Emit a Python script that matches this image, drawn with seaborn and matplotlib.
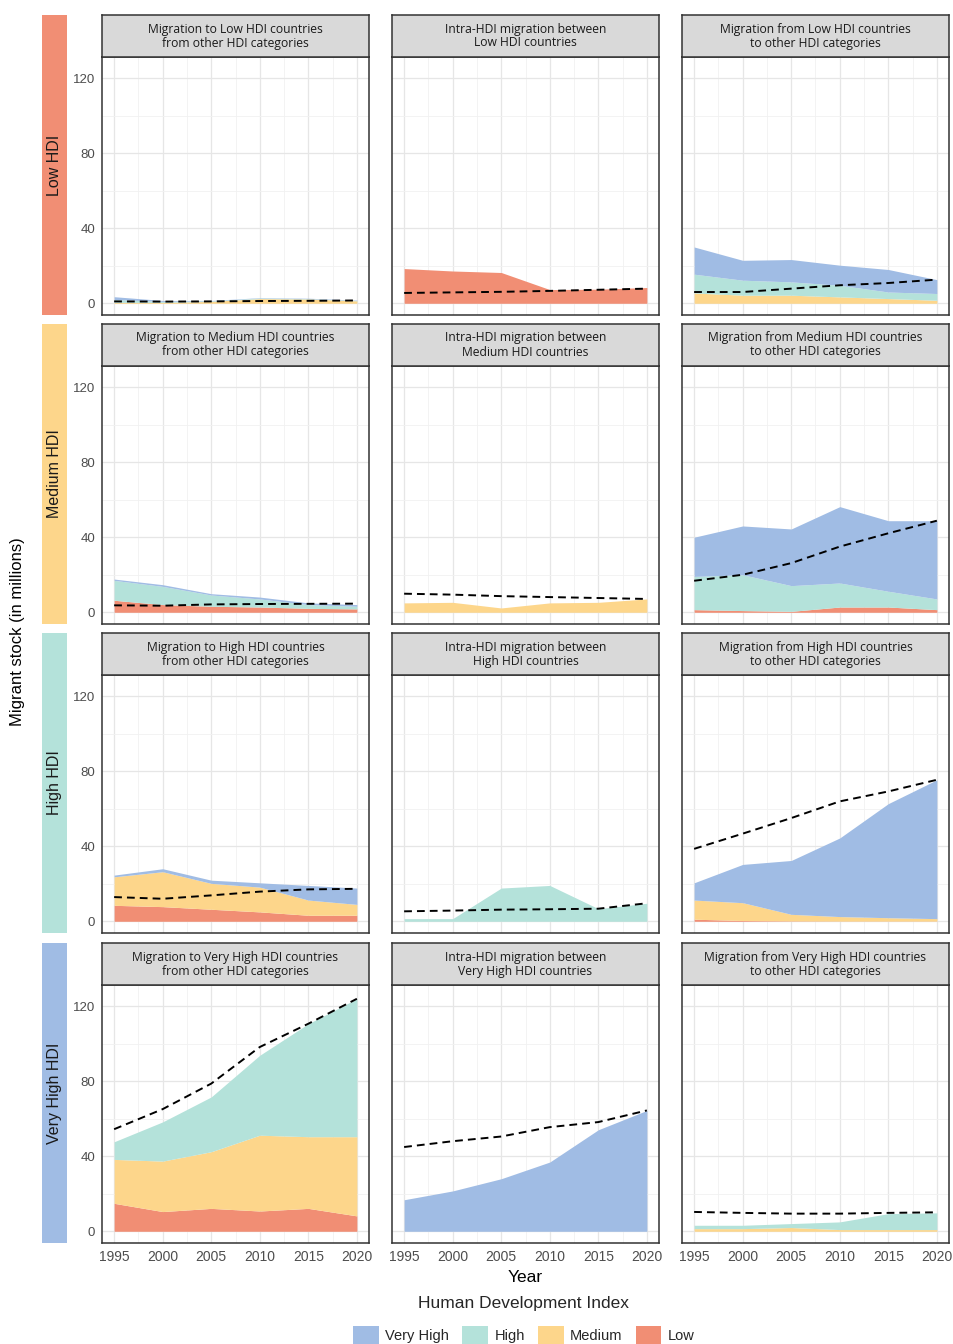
import matplotlib
matplotlib.use("Agg")
import matplotlib.pyplot as plt
import seaborn as sns
import numpy as np
import pandas as pd
from matplotlib.patches import Rectangle, Patch
from matplotlib.ticker import MultipleLocator

# ---------------- data ----------------
years = [1995, 2000, 2005, 2010, 2015, 2020]
hdi_levels = ["Very High", "High", "Medium", "Low"]          # legend order
stack_order = ["Low", "Medium", "High", "Very High"]          # bottom -> top
row_labels = ["Low HDI", "Medium HDI", "High HDI", "Very High HDI"]
col_titles = [
    ["Migration to Low HDI countries\nfrom other HDI categories",
     "Intra-HDI migration between\nLow HDI countries",
     "Migration from Low HDI countries\nto other HDI categories"],
    ["Migration to Medium HDI countries\nfrom other HDI categories",
     "Intra-HDI migration between\nMedium HDI countries",
     "Migration from Medium HDI countries\nto other HDI categories"],
    ["Migration to High HDI countries\nfrom other HDI categories",
     "Intra-HDI migration between\nHigh HDI countries",
     "Migration from High HDI countries\nto other HDI categories"],
    ["Migration to Very High HDI countries\nfrom other HDI categories",
     "Intra-HDI migration between\nVery High HDI countries",
     "Migration from Very High HDI countries\nto other HDI categories"],
]

# layer values (millions) by partner HDI group: Low, Medium, High, Very High; plus dashed reference
to_low_low     = [0, 0, 0, 0, 0, 0]
to_low_med     = [0.5, 0.5, 1.0, 2.5, 2.3, 1.3]
to_low_high    = [1.5, 0.5, 0.3, 0.3, 0.2, 0.2]
to_low_vhigh   = [1.5, 0.5, 0.2, 0.2, 0.2, 0.2]
to_low_ref     = [1.0, 0.9, 1.0, 1.2, 1.3, 1.5]

intra_low      = [18.5, 17.2, 16.4, 7.3, 7.5, 8.4]
intra_low_ref  = [5.5, 5.8, 6.1, 6.6, 7.2, 7.8]

from_low_low   = [0, 0, 0, 0, 0, 0]
from_low_med   = [5.5, 4.3, 4.3, 3.4, 2.5, 1.6]
from_low_high  = [10.0, 8.0, 7.1, 6.2, 3.5, 3.6]
from_low_vhigh = [14.5, 10.6, 11.9, 10.7, 12.0, 7.4]
from_low_ref   = [6.0, 6.0, 7.8, 9.6, 10.8, 12.6]

to_med_low     = [6.4, 4.1, 3.2, 2.8, 2.1, 1.8]
to_med_med     = [0, 0, 0, 0, 0, 0]
to_med_high    = [10.6, 9.7, 6.0, 4.3, 2.0, 1.4]
to_med_vhigh   = [0.7, 0.9, 0.7, 1.0, 0.9, 0.9]
to_med_ref     = [3.7, 3.5, 4.2, 4.4, 4.5, 4.6]

intra_med      = [5.0, 5.3, 2.3, 5.0, 5.3, 7.1]
intra_med_ref  = [9.9, 9.4, 8.6, 8.1, 7.6, 7.1]

from_med_low   = [1.4, 0.9, 0.5, 2.8, 2.8, 1.4]
from_med_med   = [0, 0, 0, 0, 0, 0]
from_med_high  = [17.7, 19.1, 13.7, 12.8, 8.4, 5.7]
from_med_vhigh = [20.9, 26.0, 30.2, 40.7, 37.6, 41.7]
from_med_ref   = [16.8, 20.0, 26.2, 35.0, 42.1, 48.8]

to_high_low    = [8.5, 7.8, 6.4, 5.0, 3.2, 3.2]
to_high_med    = [15.2, 18.6, 13.8, 13.2, 8.1, 5.8]
to_high_high   = [0, 0, 0, 0, 0, 0]
to_high_vhigh  = [0.9, 1.6, 1.7, 2.3, 7.8, 8.7]
to_high_ref    = [12.9, 12.0, 13.8, 15.8, 17.0, 17.3]

intra_high     = [1.4, 1.4, 17.7, 19.1, 6.7, 9.6]
intra_high_ref = [5.3, 5.7, 6.2, 6.4, 6.7, 9.6]

from_high_low   = [1.1, 0.4, 0.2, 0.1, 0.1, 0.1]
from_high_med   = [10.2, 9.5, 3.5, 2.4, 1.8, 1.3]
from_high_high  = [0, 0, 0, 0, 0, 0]
from_high_vhigh = [9.2, 20.4, 28.7, 41.9, 60.8, 74.0]
from_high_ref   = [38.6, 46.7, 55.0, 63.9, 69.2, 75.4]

to_vh_low      = [14.9, 10.5, 12.2, 10.8, 12.2, 8.2]
to_vh_med      = [23.4, 26.9, 30.2, 40.4, 38.2, 42.2]
to_vh_high     = [9.4, 20.9, 29.2, 42.6, 60.2, 73.5]
to_vh_vhigh    = [0, 0, 0, 0, 0, 0]
to_vh_ref      = [54.4, 65.1, 78.7, 98.2, 110.6, 123.9]

intra_vh       = [16.8, 21.5, 28.0, 36.9, 54.1, 64.4]
intra_vh_ref   = [44.9, 48.0, 50.5, 55.5, 58.2, 64.4]

from_vh_low    = [0, 0, 0, 0, 0, 0]
from_vh_med    = [1.4, 1.4, 2.0, 0.9, 0.9, 0.9]
from_vh_high   = [1.8, 1.8, 2.1, 4.1, 8.5, 8.9]
from_vh_vhigh  = [0, 0, 0, 0, 0, 0]
from_vh_ref    = [10.3, 9.8, 9.4, 9.4, 9.8, 10.1]

zeros = [0, 0, 0, 0, 0, 0]
# panels[row][col] = (layers Low, Medium, High, Very High), reference line
panels = [
    [((to_low_low, to_low_med, to_low_high, to_low_vhigh), to_low_ref),
     ((intra_low, zeros, zeros, zeros), intra_low_ref),
     ((from_low_low, from_low_med, from_low_high, from_low_vhigh), from_low_ref)],
    [((to_med_low, to_med_med, to_med_high, to_med_vhigh), to_med_ref),
     ((zeros, intra_med, zeros, zeros), intra_med_ref),
     ((from_med_low, from_med_med, from_med_high, from_med_vhigh), from_med_ref)],
    [((to_high_low, to_high_med, to_high_high, to_high_vhigh), to_high_ref),
     ((zeros, zeros, intra_high, zeros), intra_high_ref),
     ((from_high_low, from_high_med, from_high_high, from_high_vhigh), from_high_ref)],
    [((to_vh_low, to_vh_med, to_vh_high, to_vh_vhigh), to_vh_ref),
     ((zeros, zeros, zeros, intra_vh), intra_vh_ref),
     ((from_vh_low, from_vh_med, from_vh_high, from_vh_vhigh), from_vh_ref)],
]

hdi_colors = {"Very High": "#A0BCE4", "High": "#B4E2DA", "Medium": "#FDD68B", "Low": "#F18E74"}

# ---------------- style ----------------
sns.set_theme(style="white")
plt.rcParams['font.family'] = ['Liberation Sans', 'DejaVu Sans']

W, H = 954, 1344
fig = plt.figure(figsize=(W / 100, H / 100), dpi=100)
def fx(px): return px / W
def fy(py): return 1 - py / H

col_left = [102, 392, 682]
col_w = 267
rows_px = [(15, 57, 315), (324, 366, 624), (633, 675, 933), (943, 985, 1243)]
border = "#333333"
tick_col = "#4D4D4D"

for r in range(4):
    s_top, p_top, p_bot = rows_px[r]
    # row strip on left
    fig.add_artist(Rectangle((fx(42), fy(p_bot)), 25 / W, (p_bot - s_top) / H,
                             transform=fig.transFigure, facecolor=hdi_colors[stack_order[r]],
                             edgecolor="none"))
    fig.text(fx(54.5), fy((s_top + p_bot) / 2), row_labels[r], rotation=90,
             ha="center", va="center", fontsize=11.5, color="#1A1A1A")
    for c in range(3):
        ax = fig.add_axes([fx(col_left[c]), fy(p_bot), col_w / W, (p_bot - p_top) / H])
        layers, ref = panels[r][c]
        ax.stackplot(years, *layers, colors=[hdi_colors[k] for k in stack_order],
                     linewidth=0, zorder=2)
        sns.lineplot(x=years, y=ref, ax=ax, color="black", linewidth=1.4,
                     dashes=False, zorder=3)
        ax.lines[-1].set_linestyle((0, (4, 2.6)))
        ax.set_xlim(1995 - 1.25, 2020 + 1.25)
        ax.set_ylim(-6.25, 131.25)
        ax.set_xticks(years)
        ax.set_yticks([0, 40, 80, 120])
        ax.xaxis.set_minor_locator(MultipleLocator(2.5))
        ax.yaxis.set_minor_locator(MultipleLocator(20))
        ax.grid(True, which="major", color="#E6E6E6", linewidth=0.9, zorder=0)
        ax.grid(True, which="minor", color="#F1F1F1", linewidth=0.6, zorder=0)
        ax.set_axisbelow(True)
        ax.set_facecolor("white")
        for sp in ax.spines.values():
            sp.set_color(border)
            sp.set_linewidth(1.1)
        ax.tick_params(which="minor", length=0)
        ax.tick_params(which="major", length=3, color=border, width=0.8,
                       labelsize=9.5, labelcolor=tick_col, pad=2)
        ax.tick_params(axis="x", labelsize=10)
        if c != 0:
            ax.tick_params(axis="y", length=0, labelleft=False)
        if r != 3:
            ax.tick_params(axis="x", length=0, labelbottom=False)
        ax.set_xlabel("")
        ax.set_ylabel("")
        # column strip
        sax = fig.add_axes([fx(col_left[c]), fy(p_top), col_w / W, (p_top - s_top) / H])
        sax.set_facecolor("#D9D9D9")
        sax.set_xticks([]); sax.set_yticks([])
        for sp in sax.spines.values():
            sp.set_color(border)
            sp.set_linewidth(1.1)
        sax.text(0.5, 0.5, col_titles[r][c], ha="center", va="center",
                 fontsize=8.7, color="#1A1A1A", family=["Open Sans", "DejaVu Sans"],
                 linespacing=1.1, transform=sax.transAxes)
        if r == 3 and c == 1:
            ax.set_xlabel("Year", fontsize=12.5, color="black", labelpad=4)

fig.text(fx(18), fy(632), "Migrant stock (in millions)", rotation=90,
         ha="center", va="center", fontsize=12, color="black")

handles = [Patch(facecolor=hdi_colors[k], edgecolor="none", label=k) for k in hdi_levels]
leg = fig.legend(handles=handles, ncol=4, loc="upper center",
                 bbox_to_anchor=(fx(524), fy(1296)), frameon=False,
                 title="Human Development Index", title_fontsize=12.5, fontsize=10.5,
                 handlelength=1.75, handleheight=1.75, handletextpad=0.45,
                 columnspacing=0.9, borderpad=0, borderaxespad=0, labelspacing=1.0)

fig.savefig("out.png", dpi=100)
